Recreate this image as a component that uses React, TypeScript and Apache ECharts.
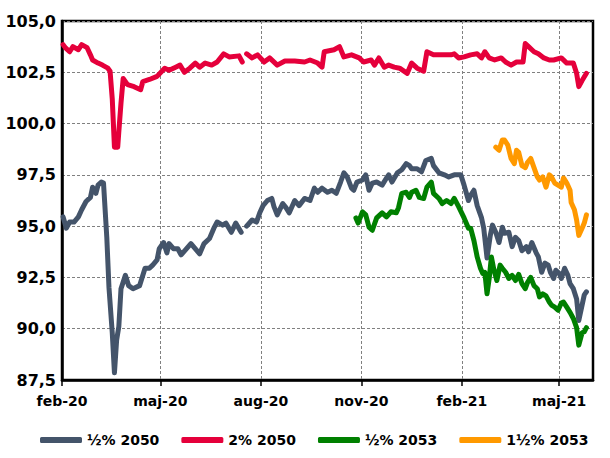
import React, { useEffect, useRef } from "react";
import * as echarts from "echarts";

const seriesNames = ["½% 2050", "2% 2050", "½% 2053", "1½% 2053"];
const monthNames = ["jan", "feb", "mar", "apr", "maj", "jun", "jul", "aug", "sep", "okt", "nov", "dec"];
const tickDates = ["2020-02-01", "2020-05-01", "2020-08-01", "2020-11-01", "2021-02-01", "2021-05-01"];
const xStart = "2020-02-01";
const xEnd = "2021-06-01";
const yMin = 87.5;
const yMax = 105;
const yStep = 2.5;

type Pt = [string, number | null];

const half2050: Pt[] = [
  ["2020-02-02", 95.45], ["2020-02-05", 94.9], ["2020-02-08", 95.2], ["2020-02-12", 95.2], ["2020-02-16", 95.45],
  ["2020-02-19", 95.8], ["2020-02-23", 96.2], ["2020-02-27", 96.4], ["2020-02-29", 96.9], ["2020-03-03", 96.6],
  ["2020-03-05", 97.0], ["2020-03-08", 97.15], ["2020-03-10", 97.1], ["2020-03-13", 94.45], ["2020-03-15", 92.0],
  ["2020-03-18", 89.8], ["2020-03-20", 87.85], ["2020-03-22", 89.45], ["2020-03-24", 90.1], ["2020-03-26", 91.95],
  ["2020-03-30", 92.6], ["2020-04-02", 92.1], ["2020-04-06", 91.95], ["2020-04-12", 92.1], ["2020-04-17", 92.95],
  ["2020-04-21", 92.95], ["2020-04-24", 93.1], ["2020-04-28", 93.35], ["2020-04-30", 93.9], ["2020-05-04", 94.2],
  ["2020-05-07", 93.7], ["2020-05-09", 94.15], ["2020-05-13", 93.9], ["2020-05-17", 93.9], ["2020-05-20", 93.6],
  ["2020-05-25", 93.9], ["2020-05-29", 94.15], ["2020-06-06", 93.65], ["2020-06-10", 94.15], ["2020-06-15", 94.4],
  ["2020-06-19", 94.9], ["2020-06-22", 95.2], ["2020-06-27", 95.05], ["2020-06-30", 95.15], ["2020-07-05", 94.7],
  ["2020-07-09", 95.15], ["2020-07-14", 94.7], ["2020-07-16", null],
  ["2020-07-19", 95.0], ["2020-07-24", 95.3], ["2020-07-28", 95.2], ["2020-07-31", 95.65], ["2020-08-03", 96.0],
  ["2020-08-07", 96.25], ["2020-08-11", 96.35], ["2020-08-13", 95.95], ["2020-08-16", 95.55], ["2020-08-21", 96.1],
  ["2020-08-24", 95.9], ["2020-08-27", 95.65], ["2020-09-01", 96.25], ["2020-09-05", 96.0], ["2020-09-10", 96.35],
  ["2020-09-15", 96.25], ["2020-09-19", 96.85], ["2020-09-22", 96.65], ["2020-09-26", 96.85], ["2020-10-01", 96.65],
  ["2020-10-05", 96.75], ["2020-10-09", 96.6], ["2020-10-13", 97.15], ["2020-10-16", 97.6], ["2020-10-19", 97.4],
  ["2020-10-23", 96.85], ["2020-10-25", 96.75], ["2020-10-28", 97.15], ["2020-11-02", 97.25], ["2020-11-05", 97.5],
  ["2020-11-08", 96.75], ["2020-11-11", 97.1], ["2020-11-15", 97.15], ["2020-11-20", 97.0], ["2020-11-24", 97.35],
  ["2020-11-26", 97.5], ["2020-11-29", 97.15], ["2020-12-04", 97.6], ["2020-12-08", 97.75], ["2020-12-12", 98.05],
  ["2020-12-15", 97.95], ["2020-12-17", 97.8], ["2020-12-22", 97.8], ["2020-12-26", 97.65], ["2020-12-30", 98.2],
  ["2021-01-04", 98.3], ["2021-01-06", 97.95], ["2021-01-11", 97.6], ["2021-01-16", 97.5], ["2021-01-20", 97.4],
  ["2021-01-25", 97.5], ["2021-01-31", 97.5], ["2021-02-03", 97.0], ["2021-02-07", 96.25], ["2021-02-09", 96.5],
  ["2021-02-12", 96.75], ["2021-02-15", 96.0], ["2021-02-19", 95.4], ["2021-02-21", 94.9], ["2021-02-24", 93.45],
  ["2021-02-27", 94.55], ["2021-03-01", 95.05], ["2021-03-04", 94.7], ["2021-03-07", 94.2], ["2021-03-10", 94.95],
  ["2021-03-12", 94.65], ["2021-03-16", 94.7], ["2021-03-19", 94.0], ["2021-03-22", 94.45], ["2021-03-25", 94.3],
  ["2021-03-28", 93.8], ["2021-04-01", 94.0], ["2021-04-03", 93.75], ["2021-04-06", 94.2], ["2021-04-10", 93.7],
  ["2021-04-12", 93.5], ["2021-04-15", 92.75], ["2021-04-18", 93.2], ["2021-04-21", 93.1], ["2021-04-23", 92.75],
  ["2021-04-26", 92.45], ["2021-04-28", 92.85], ["2021-05-01", 92.7], ["2021-05-03", 92.45], ["2021-05-06", 92.95],
  ["2021-05-09", 92.6], ["2021-05-11", 92.2], ["2021-05-14", 91.95], ["2021-05-17", 91.45], ["2021-05-19", 90.4],
  ["2021-05-22", 91.15], ["2021-05-24", 91.65], ["2021-05-26", 91.8],
];

const two2050: Pt[] = [
  ["2020-02-02", 103.85], ["2020-02-04", 103.7], ["2020-02-08", 103.5], ["2020-02-11", 103.75], ["2020-02-16", 103.6],
  ["2020-02-19", 103.85], ["2020-02-24", 103.7], ["2020-02-27", 103.35], ["2020-02-29", 103.1], ["2020-03-05", 102.95],
  ["2020-03-09", 102.85], ["2020-03-14", 102.7], ["2020-03-16", 102.55], ["2020-03-18", 101.2], ["2020-03-20", 98.85],
  ["2020-03-23", 98.85], ["2020-03-24", 99.6], ["2020-03-26", 101.0], ["2020-03-28", 102.2], ["2020-04-01", 101.9],
  ["2020-04-07", 101.8], ["2020-04-13", 101.65], ["2020-04-15", 102.05], ["2020-04-21", 102.15], ["2020-04-28", 102.3],
  ["2020-05-05", 102.7], ["2020-05-09", 102.6], ["2020-05-15", 102.75], ["2020-05-19", 102.85], ["2020-05-23", 102.5],
  ["2020-05-28", 102.7], ["2020-06-02", 102.95], ["2020-06-06", 102.75], ["2020-06-11", 102.95], ["2020-06-17", 102.85],
  ["2020-06-22", 103.0], ["2020-06-28", 103.4], ["2020-07-03", 103.25], ["2020-07-12", 103.3], ["2020-07-15", 103.0],
  ["2020-07-17", null],
  ["2020-07-19", 103.4], ["2020-07-24", 103.2], ["2020-07-29", 103.35], ["2020-08-04", 103.0], ["2020-08-09", 103.2],
  ["2020-08-16", 102.85], ["2020-08-23", 103.05], ["2020-09-01", 103.05], ["2020-09-10", 103.0], ["2020-09-15", 103.1],
  ["2020-09-22", 102.95], ["2020-09-26", 102.75], ["2020-09-28", 103.5], ["2020-10-07", 103.6], ["2020-10-12", 103.75],
  ["2020-10-16", 103.25], ["2020-10-23", 103.35], ["2020-10-30", 103.2], ["2020-11-03", 103.0], ["2020-11-10", 103.1],
  ["2020-11-13", 102.85], ["2020-11-17", 103.2], ["2020-11-22", 102.75], ["2020-11-26", 102.85], ["2020-12-01", 102.75],
  ["2020-12-06", 102.7], ["2020-12-13", 102.45], ["2020-12-17", 102.95], ["2020-12-22", 102.7], ["2020-12-28", 102.55],
  ["2020-12-31", 103.5], ["2021-01-06", 103.35], ["2021-01-16", 103.35], ["2021-01-22", 103.35], ["2021-01-25", 103.4],
  ["2021-01-29", 103.2], ["2021-02-03", 103.25], ["2021-02-09", 103.35], ["2021-02-15", 103.4], ["2021-02-19", 103.2],
  ["2021-02-22", 103.5], ["2021-02-26", 103.2], ["2021-03-03", 103.1], ["2021-03-09", 103.2], ["2021-03-13", 103.0],
  ["2021-03-18", 102.85], ["2021-03-23", 103.0], ["2021-03-29", 103.0], ["2021-03-31", 103.9], ["2021-04-03", 103.75],
  ["2021-04-08", 103.5], ["2021-04-12", 103.4], ["2021-04-17", 103.2], ["2021-04-22", 103.1], ["2021-04-26", 103.1],
  ["2021-05-03", 103.2], ["2021-05-08", 102.95], ["2021-05-14", 102.95], ["2021-05-17", 102.45], ["2021-05-19", 101.8],
  ["2021-05-22", 102.1], ["2021-05-26", 102.45],
];

const half2053: Pt[] = [
  ["2020-10-27", 95.4], ["2020-10-29", 95.15], ["2020-11-02", 95.7], ["2020-11-05", 95.55], ["2020-11-08", 94.95],
  ["2020-11-11", 94.8], ["2020-11-15", 95.4], ["2020-11-20", 95.65], ["2020-11-24", 95.45], ["2020-11-28", 95.7],
  ["2020-12-03", 95.65], ["2020-12-05", 95.9], ["2020-12-08", 96.6], ["2020-12-12", 96.65], ["2020-12-15", 96.4],
  ["2020-12-17", 96.65], ["2020-12-21", 96.75], ["2020-12-24", 96.4], ["2020-12-28", 96.35], ["2020-12-31", 96.9],
  ["2021-01-04", 97.15], ["2021-01-06", 96.6], ["2021-01-11", 96.35], ["2021-01-14", 96.1], ["2021-01-18", 96.25],
  ["2021-01-22", 96.1], ["2021-01-25", 96.35], ["2021-01-29", 95.95], ["2021-02-03", 95.4], ["2021-02-07", 94.9],
  ["2021-02-09", 94.9], ["2021-02-12", 94.3], ["2021-02-15", 93.5], ["2021-02-18", 92.95], ["2021-02-20", 92.7],
  ["2021-02-22", 92.75], ["2021-02-24", 91.7], ["2021-02-26", 92.45], ["2021-02-28", 93.5], ["2021-03-02", 92.95],
  ["2021-03-05", 92.35], ["2021-03-08", 93.1], ["2021-03-10", 92.95], ["2021-03-13", 92.75], ["2021-03-16", 92.45],
  ["2021-03-19", 92.6], ["2021-03-22", 92.35], ["2021-03-25", 92.65], ["2021-03-28", 92.2], ["2021-03-31", 91.95],
  ["2021-04-02", 92.25], ["2021-04-05", 92.5], ["2021-04-08", 92.1], ["2021-04-11", 91.95], ["2021-04-13", 91.55],
  ["2021-04-16", 91.7], ["2021-04-19", 91.6], ["2021-04-22", 91.3], ["2021-04-24", 91.15], ["2021-04-27", 91.05],
  ["2021-04-30", 90.9], ["2021-05-03", 91.25], ["2021-05-05", 91.3], ["2021-05-08", 91.05], ["2021-05-11", 90.8],
  ["2021-05-14", 90.5], ["2021-05-17", 90.05], ["2021-05-19", 89.2], ["2021-05-22", 89.8], ["2021-05-24", 89.85],
  ["2021-05-26", 90.05],
];

const oneHalf2053: Pt[] = [
  ["2021-03-04", 98.85], ["2021-03-07", 98.7], ["2021-03-10", 99.2], ["2021-03-12", 99.2], ["2021-03-15", 98.95],
  ["2021-03-18", 98.3], ["2021-03-21", 98.05], ["2021-03-23", 98.7], ["2021-03-25", 98.6], ["2021-03-28", 97.95],
  ["2021-03-31", 97.85], ["2021-04-02", 98.1], ["2021-04-05", 98.3], ["2021-04-08", 97.85], ["2021-04-11", 97.4],
  ["2021-04-13", 97.25], ["2021-04-16", 97.4], ["2021-04-19", 96.9], ["2021-04-22", 97.5], ["2021-04-24", 97.4],
  ["2021-04-27", 97.1], ["2021-04-30", 97.0], ["2021-05-03", 96.9], ["2021-05-05", 97.35], ["2021-05-08", 97.1],
  ["2021-05-11", 96.75], ["2021-05-12", 96.15], ["2021-05-15", 95.8], ["2021-05-17", 95.3], ["2021-05-19", 94.55],
  ["2021-05-22", 94.9], ["2021-05-24", 95.15], ["2021-05-26", 95.55],
];

const allSeries = [half2050, two2050, half2053, oneHalf2053];
const colors = ["#44546A", "#E5003B", "#008000", "#FF9900"];

function ts(s: string): number {
  const [y, m, d] = s.split("-").map(Number);
  return new Date(y, m - 1, d).getTime();
}

const FONT = "DejaVu Sans";

export default function App() {
  const ref = useRef<HTMLDivElement>(null);
  useEffect(() => {
    if (!ref.current) return;
    const chart = echarts.init(ref.current, undefined, { renderer: "svg" });
    const tickVals = tickDates.map(ts);
    chart.setOption({
      animation: false,
      backgroundColor: "#ffffff",
      grid: {
        left: 62,
        right: 17,
        top: 21,
        bottom: 78,
        show: true,
        borderColor: "#000",
        borderWidth: 2.5,
        backgroundColor: "transparent",
      },
      legend: {
        data: seriesNames,
        left: 35,
        top: 428,
        icon: "roundRect",
        itemWidth: 42,
        itemHeight: 6,
        itemGap: 22,
        selectedMode: false,
        textStyle: { fontFamily: FONT, fontWeight: "bold", fontSize: 14, color: "#000" },
      },
      xAxis: {
        type: "value",
        min: ts(xStart),
        max: ts(xEnd),
        axisLine: { show: true, lineStyle: { color: "#000", width: 2.5 } },
        axisTick: { show: true, length: 6, lineStyle: { color: "#000", width: 1.5 }, customValues: tickVals },
        axisLabel: {
          customValues: tickVals,
          margin: 14,
          fontFamily: FONT,
          fontWeight: "bold",
          fontSize: 14,
          color: "#000",
          formatter: (v: number) => {
            const d = new Date(v);
            return monthNames[d.getMonth()] + "-" + String(d.getFullYear()).slice(2);
          },
        },
        splitLine: { show: true, lineStyle: { color: "#808080", type: [3, 2], width: 1 } },
      },
      yAxis: {
        type: "value",
        min: yMin,
        max: yMax,
        interval: yStep,
        axisLine: { show: true, lineStyle: { color: "#000", width: 2.5 } },
        axisTick: { show: false },
        axisLabel: {
          margin: 6,
          fontFamily: FONT,
          fontWeight: "bold",
          fontSize: 16,
          color: "#000",
          formatter: (v: number) => v.toFixed(1).replace(".", ","),
        },
        splitLine: { show: true, lineStyle: { color: "#808080", type: [3, 2], width: 1 } },
      },
      series: allSeries.map((data, i) => ({
        name: seriesNames[i],
        type: "line",
        data: data.map(([d, v]) => [ts(d), v === null ? "-" : v]),
        showSymbol: false,
        symbol: "none",
        connectNulls: false,
        color: colors[i],
        lineStyle: { color: colors[i], width: 5, cap: "round", join: "round" },
        z: 3 + i,
      })),
    });
    return () => chart.dispose();
  }, []);
  return (
    <div
      ref={ref}
      style={{ position: "absolute", left: 0, top: 0, width: 610, height: 458 }}
    />
  );
}
